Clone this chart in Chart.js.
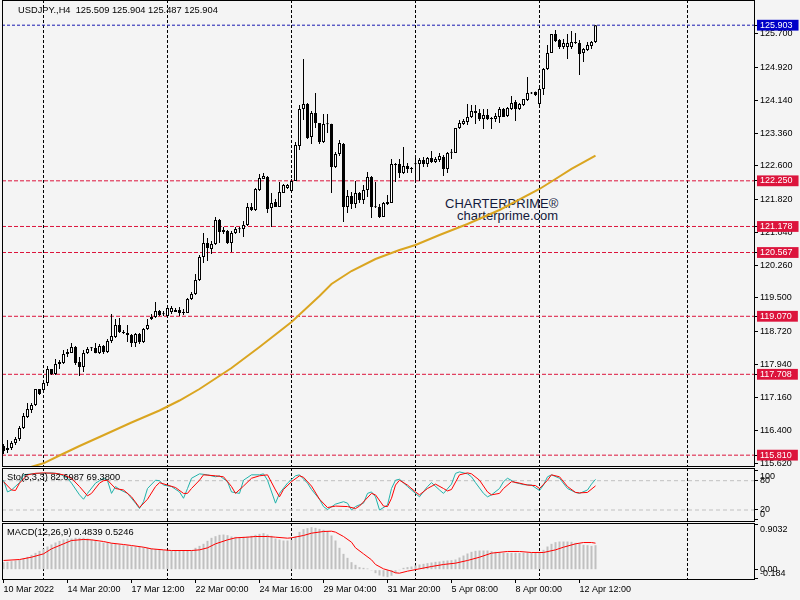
<!DOCTYPE html>
<html><head><meta charset="utf-8">
<script src="https://cdn.jsdelivr.net/npm/chart.js@4.4.1/dist/chart.umd.min.js"></script>
<style>
html,body{margin:0;padding:0;background:#f4f4f4;}
#wrap{position:relative;width:800px;height:600px;overflow:hidden;background:#f4f4f4;font-family:"Liberation Sans",Arial,sans-serif;}
canvas{position:absolute;left:0;top:0;}
.t{position:absolute;font-size:9.3px;line-height:11px;color:#000;white-space:pre;}
.wm{position:absolute;font-size:13px;line-height:15px;color:#141a3c;white-space:pre;}
</style></head><body>
<div id="wrap">
<div class="wm" style="left:445px;top:196px">CHARTERPRIME®</div>
<div class="wm" style="left:457px;top:208px">charterprime.com</div>
<canvas id="c1" width="800" height="600"></canvas>
<canvas id="c2" width="800" height="600"></canvas>
<canvas id="c3" width="800" height="600"></canvas>
<div class="t" style="left:18px;top:5px">USDJPY.,H4  125.509 125.904 125.487 125.904</div>
<div class="t" style="left:7px;top:472px">Sto(5,3,3) 82.6987 69.3800</div>
<div class="t" style="left:7px;top:527px">MACD(12,26,9) 0.4839 0.5246</div>
</div>
<script>
// ---------- DATA ----------
const opens = [116.025,115.931,115.978,116.096,116.190,116.448,116.706,116.870,116.988,117.363,
117.340,117.504,117.833,117.715,117.950,117.974,118.185,118.209,118.349,117.997,
117.880,118.209,118.322,118.326,118.209,118.373,118.232,118.490,118.584,118.865,
118.701,118.678,118.631,118.443,118.654,118.467,118.772,119.006,119.053,119.194,
119.115,119.077,119.171,119.218,119.218,119.147,119.147,119.476,119.593,119.922,
120.462,120.790,120.650,120.767,121.330,121.096,121.072,120.790,121.025,121.115,
121.119,121.213,121.635,121.565,122.034,122.293,122.340,121.612,121.753,121.635,
121.964,122.081,122.011,122.246,123.067,123.936,124.053,123.279,123.842,123.607,
123.161,123.580,123.584,122.575,122.880,123.114,121.635,121.894,121.706,121.964,
121.800,122.034,122.340,121.630,121.635,121.401,121.706,121.729,122.622,122.645,
122.434,122.598,122.525,122.640,122.645,122.739,122.645,122.786,122.692,122.739,
122.809,122.528,122.910,122.903,123.490,123.584,123.631,123.748,123.889,123.842,
123.701,123.795,123.701,123.701,123.748,123.936,123.772,123.936,124.100,123.936,
124.030,124.147,124.300,124.335,124.053,124.405,124.875,125.250,125.697,125.556,
125.391,125.391,125.391,125.509,125.485,125.250,125.321,125.415,125.509];
const highs = [116.072,116.166,116.143,116.237,116.495,116.800,117.035,117.035,117.363,117.363,
117.575,117.903,117.833,118.068,118.044,118.279,118.302,118.443,118.373,118.115,
118.279,118.349,118.349,118.443,118.420,118.396,118.537,119.124,119.006,119.030,
118.748,118.865,118.654,118.678,118.678,118.795,119.006,119.124,119.405,119.218,
119.194,119.312,119.312,119.265,119.288,119.241,119.499,119.640,120.063,120.509,
121.025,120.908,120.837,121.401,121.354,121.166,121.096,121.072,121.166,121.166,
121.307,121.729,121.729,122.081,122.410,122.434,122.363,121.964,121.823,122.222,
122.175,122.175,122.293,123.161,124.030,125.110,124.077,123.889,124.312,123.607,
123.819,123.819,123.590,122.927,123.208,123.138,122.034,121.988,122.246,121.988,
122.152,122.457,122.363,122.222,121.706,121.753,121.917,122.762,122.668,122.762,
123.044,122.668,122.575,122.786,122.786,122.809,122.809,122.950,122.809,122.903,
122.856,122.927,122.997,123.490,123.678,123.701,124.053,124.030,124.030,123.936,
123.936,123.936,123.748,123.842,123.983,123.959,123.983,124.241,124.147,124.077,
124.171,124.687,124.335,124.345,124.429,124.898,125.438,125.697,125.790,125.580,
125.580,125.697,125.767,125.720,125.556,125.368,125.509,125.532,125.904];
const lows = [115.838,115.861,115.931,116.049,116.143,116.424,116.682,116.800,116.964,117.222,
117.340,117.434,117.692,117.692,117.833,117.950,118.115,118.209,117.927,117.668,
117.762,118.185,118.255,118.205,118.185,118.185,118.209,118.443,118.560,118.678,
118.654,118.467,118.349,118.349,118.420,118.443,118.748,118.983,119.030,119.077,
119.077,119.053,119.124,119.171,119.077,119.100,119.147,119.452,119.570,119.898,
120.321,120.368,120.532,120.743,120.790,121.002,120.767,120.579,121.002,121.025,
120.931,121.190,121.542,121.542,122.011,122.293,121.495,121.166,121.635,121.635,
121.964,122.058,121.988,122.246,122.973,123.678,123.232,123.114,123.490,123.114,
123.138,123.373,121.964,122.551,122.833,121.283,121.495,121.588,121.612,121.729,
121.706,121.870,121.377,121.612,121.377,121.401,121.682,121.729,122.222,122.316,
122.410,122.434,122.434,122.222,122.246,122.575,122.575,122.668,122.668,122.692,
122.363,122.434,122.762,122.903,123.467,123.560,123.560,123.725,123.584,123.654,
123.467,123.678,123.467,123.631,123.607,123.748,123.748,123.912,123.654,123.912,
124.006,124.124,124.290,124.241,124.006,124.265,124.851,125.250,125.509,125.344,
125.344,125.110,125.344,125.462,124.734,125.039,125.297,125.344,125.487];
const closes = [115.908,115.978,116.096,116.190,116.448,116.729,116.894,116.988,117.363,117.246,
117.504,117.833,117.715,117.950,117.997,118.185,118.232,118.349,117.974,117.880,
118.209,118.302,118.330,118.209,118.373,118.232,118.490,118.607,118.865,118.701,
118.678,118.631,118.443,118.654,118.467,118.772,118.865,119.053,119.194,119.100,
119.130,119.265,119.265,119.171,119.147,119.171,119.476,119.593,119.922,120.462,
120.790,120.673,120.767,121.330,121.049,121.049,120.790,121.025,121.119,121.125,
121.213,121.635,121.565,122.058,122.316,122.363,121.588,121.729,121.635,121.988,
122.152,122.152,122.246,123.091,123.936,124.053,123.255,123.842,123.607,123.161,
123.584,123.588,122.575,122.880,123.138,121.635,121.894,121.706,121.964,121.800,
122.034,122.340,121.635,121.640,121.401,121.729,121.753,122.645,122.630,122.434,
122.598,122.528,122.532,122.650,122.739,122.645,122.786,122.692,122.762,122.833,
122.528,122.903,122.927,123.490,123.607,123.654,123.748,123.889,123.842,123.701,
123.795,123.701,123.725,123.772,123.936,123.748,123.959,124.077,123.936,124.053,
124.171,124.312,124.312,124.265,124.405,124.875,125.250,125.697,125.532,125.391,
125.485,125.485,125.509,125.485,125.227,125.344,125.438,125.509,125.904];

// moving average: [bar index, price]
const maPoints = [[6,115.509],[10,115.619],[14,115.802],[19,116.025],[24,116.237],[32,116.577],
[39,116.859],[44,117.093],[49,117.363],[57,117.856],[64,118.349],[72,118.936],[79,119.546],
[82,119.828],[87,120.133],[93,120.415],[99,120.626],[103,120.744],[109,120.978],[116,121.236],
[124,121.565],[134,122.058],[138,122.293],[142,122.528],[148,122.844]];

const priceTicks = [125.700,124.920,124.140,123.360,122.600,121.820,121.040,120.260,119.500,118.720,117.940,117.160,116.400,115.620];
const redLevels = [122.250,121.178,120.567,119.070,117.708,115.810];
const bidLevel = 125.903;

// Stochastic: [bar index, value]
const stochK = [[0,81],[1,57],[2,61],[4,76],[5,92],[8,95],[10,95],[12,96],[14,94],[16,85],[17,75],[19,51],[20,42],
[21,54],[23,75],[25,85],[26,80],[27,54],[28,68],[29,62],[31,54],[33,34],[34,23],[35,37],[36,64],[38,81],[39,80],
[40,71],[42,68],[44,57],[45,44],[46,64],[47,85],[49,94],[51,92],[53,88],[54,90],[56,78],[57,57],[59,54],[60,81],
[62,92],[64,92],[65,94],[66,81],[68,34],[69,54],[71,75],[73,90],[74,92],[76,75],[77,62],[79,42],[80,27],[81,21],
[83,32],[85,37],[86,34],[87,20],[88,27],[90,34],[91,54],[92,57],[93,47],[94,20],[96,30],[97,64],[98,81],[99,83],
[101,68],[103,54],[104,47],[106,68],[107,76],[109,61],[110,54],[112,73],[113,95],[114,98],[116,94],[117,88],
[118,76],[120,54],[121,47],[122,51],[124,64],[125,78],[126,85],[128,76],[130,72],[132,71],[134,60],[135,71],
[136,88],[137,92],[139,85],[141,64],[143,56],[144,54],[146,61],[147,73],[148,82.6987]];
const stochD = [[0,78],[2,61],[3,60],[4,75],[6,92],[8,95],[10,96],[13,95],[15,92],[17,85],[19,68],[21,49],[22,54],
[24,75],[25,80],[26,81],[28,64],[30,61],[32,47],[34,25],[36,42],[38,68],[39,76],[41,71],[43,66],[45,54],[46,54],
[47,64],[49,81],[50,92],[53,90],[55,88],[57,68],[58,54],[60,69],[62,85],[64,90],[66,92],[68,61],[69,47],[70,62],
[72,78],[74,90],[75,87],[77,69],[79,42],[81,25],[83,28],[86,27],[88,23],[89,28],[92,54],[93,51],[95,28],[96,27],
[97,44],[98,71],[99,81],[101,71],[103,57],[104,51],[106,64],[108,73],[110,64],[111,59],[112,62],[114,92],[116,96],
[117,94],[119,81],[121,57],[122,51],[124,54],[125,64],[127,78],[129,75],[131,71],[133,70],[134,64],[136,81],
[137,92],[139,88],[141,68],[143,56],[144,55],[146,56],[148,69.38]];
const stochLevels = [80,20];
const stochTicks = [100,80,20,0];

// MACD histogram, one value per bar
const macdHist = [0.149,0.155,0.168,0.182,0.195,0.221,0.254,0.294,0.333,0.373,
0.412,0.458,0.498,0.537,0.570,0.597,0.610,0.616,0.630,0.630,
0.630,0.616,0.597,0.570,0.544,0.537,0.531,0.524,0.511,0.498,
0.485,0.478,0.465,0.458,0.452,0.445,0.432,0.419,0.406,0.392,
0.386,0.379,0.379,0.379,0.379,0.379,0.379,0.379,0.432,0.471,
0.511,0.570,0.630,0.662,0.689,0.695,0.682,0.656,0.649,0.643,
0.649,0.656,0.669,0.689,0.709,0.722,0.695,0.669,0.616,0.597,
0.577,0.577,0.590,0.656,0.748,0.801,0.821,0.840,0.827,0.808,
0.788,0.761,0.676,0.577,0.432,0.313,0.234,0.149,0.096,0.050,
0.037,0.023,-0.016,-0.069,-0.115,-0.135,-0.148,-0.121,-0.069,-0.003,
0.037,0.050,0.063,0.083,0.103,0.116,0.129,0.142,0.155,0.162,
0.175,0.182,0.188,0.201,0.241,0.280,0.320,0.353,0.373,0.379,
0.379,0.379,0.366,0.353,0.340,0.333,0.333,0.333,0.333,0.333,
0.333,0.333,0.333,0.333,0.340,0.392,0.458,0.511,0.544,0.557,
0.557,0.557,0.551,0.531,0.511,0.491,0.485,0.471,0.4839];
const macdSignal = [[0,0.182],[4,0.201],[7,0.247],[10,0.313],[12,0.412],[15,0.511],[17,0.577],[20,0.597],[22,0.590],
[25,0.557],[27,0.524],[30,0.498],[32,0.478],[35,0.445],[37,0.412],[40,0.392],[42,0.379],[47,0.379],[49,0.392],
[51,0.432],[53,0.511],[56,0.590],[58,0.630],[61,0.643],[63,0.656],[66,0.656],[68,0.643],[71,0.623],[72,0.630],
[75,0.676],[77,0.722],[80,0.755],[82,0.761],[83,0.742],[85,0.656],[87,0.544],[88,0.432],[90,0.313],[92,0.195],
[93,0.103],[95,0.017],[97,-0.029],[98,-0.062],[99,-0.069],[101,-0.029],[104,0.017],[107,0.063],[110,0.103],
[113,0.129],[116,0.182],[119,0.247],[122,0.327],[126,0.360],[129,0.360],[132,0.340],[135,0.340],[138,0.392],
[140,0.445],[143,0.511],[145,0.537],[147,0.537],[148,0.5246]];
const macdTicks = [0.9032,0,-0.184];

const timeIdx = [0,16,32,48,64,80,96,112,128,144];
const timeLabels = ['10 Mar 2022','14 Mar 20:00','17 Mar 12:00','22 Mar 00:00','24 Mar 16:00','29 Mar 04:00','31 Mar 20:00','5 Apr 08:00','8 Apr 00:00','12 Apr 12:00'];
const gridIdx = [10,41,72,103,134,171];

// ---------- CHARTS ----------
Chart.defaults.font.family = '"Liberation Sans", Arial, sans-serif';
Chart.defaults.font.size = 9;
Chart.defaults.color = '#000';

const X_MIN = -0.375, X_MAX = 187.875;
const AXIS_W = 45;

const frame = {id:'frame', afterDatasetsDraw(chart){
  const {ctx, chartArea:a} = chart;
  ctx.save(); ctx.strokeStyle = '#000'; ctx.lineWidth = 1;
  ctx.strokeRect(a.left + 0.5, a.top + 0.5, a.right - a.left - 1, a.bottom - a.top - 1);
  ctx.restore();
}};

function gridAxis(){
  return {type:'linear', position:'bottom', min:X_MIN, max:X_MAX, offset:false,
    afterBuildTicks: s => { s.ticks = gridIdx.map(v => ({value:v})); },
    afterFit: s => { s.height = 0; s.paddingLeft = 0; s.paddingRight = 0; },
    ticks:{display:false},
    grid:{display:true, color:'#000', lineWidth:1, drawTicks:false, drawOnChartArea:true, offset:false},
    border:{display:false, dash:[3,2]}};
}
// edge labels are drawn inside the panel, as the terminal does (top one below its level, bottom one above)
function edgeLabel(text, v, top, bottom){
  if (v === top) return ['', text];
  if (v === bottom) return [text, ''];
  return text;
}
function rightAxis(min, max, tickVals, fmt){
  return {type:'linear', position:'right', min, max,
    afterBuildTicks: s => { s.ticks = tickVals.map(v => ({value:v})); },
    afterFit: s => { s.width = AXIS_W; s.paddingTop = 0; s.paddingBottom = 0; },
    ticks:{autoSkip:false, padding:2, color:'#000', callback: fmt},
    grid:{drawOnChartArea:false, drawTicks:true, tickLength:3, color:'#000'},
    border:{display:false}};
}
function base(padTop, padBottom){
  return {responsive:false, animation:false, events:[],
    layout:{padding:{top:padTop, bottom:padBottom, left:2, right:0}},
    plugins:{legend:{display:false}, tooltip:{enabled:false}}};
}
const lineDs = (pts, color, width, dash, order) => ({type:'line', data: pts.map(p => ({x:p[0], y:p[1]})),
  borderColor: color, borderWidth: width, borderDash: dash || [], pointRadius: 0, tension: 0, fill:false, order});

// Main price panel
const idx = opens.map((_, i) => i);
const allLevels = redLevels.concat([bidLevel]);
const isLevel = c => !!(c.tick && allLevels.includes(c.tick.value));
const mainDatasets = [
  {type:'bar', data: idx.map(i => ({x:i, y:[opens[i], closes[i]]})),
   backgroundColor: c => (closes[c.dataIndex] >= opens[c.dataIndex] ? '#ffffff' : '#000000'),
   borderColor:'#000', borderWidth:1, borderSkipped:false, barThickness:3, grouped:false, minBarLength:1, inflateAmount:0, order:0},
  {type:'bar', data: idx.map(i => ({x:i, y:[lows[i], highs[i]]})),
   backgroundColor:'#000', borderWidth:0, barThickness:1, grouped:false, inflateAmount:0, order:1},
  lineDs(maPoints, '#daa520', 2, null, 2),
  lineDs([[X_MIN, bidLevel],[X_MAX, bidLevel]], '#1818b0', 1, [3,2], 3)
].concat(redLevels.map(L => lineDs([[X_MIN, L],[X_MAX, L]], '#dc143c', 1, [4,2], 3)));

const o1 = base(0, 133);
o1.scales = {
  x: gridAxis(),
  y: rightAxis(115.532, 126.4946, priceTicks.concat(allLevels), v => Number(v).toFixed(3))
};
Object.assign(o1.scales.y.ticks, {
  color: c => (isLevel(c) ? '#ffffff' : '#000000'),
  showLabelBackdrop: c => isLevel(c),
  backdropColor: c => (c.tick && c.tick.value === bidLevel ? '#0000c8' : '#dc143c'),
  backdropPadding: {left:3, right:6, top:0, bottom:0}
});
new Chart(document.getElementById('c1'), {type:'bar', data:{datasets: mainDatasets}, options: o1, plugins:[frame]});

// Stochastic panel
const o2 = base(468, 78);
o2.scales = { x: gridAxis(), y: rightAxis(-4.6, 106, stochTicks, v => edgeLabel(String(v), v, 100, 0)) };
const stochDatasets = [
  lineDs(stochK, '#20b2aa', 1, null, 1),
  lineDs(stochD, '#ff0000', 1, null, 0)
].concat(stochLevels.map(L => lineDs([[X_MIN, L],[X_MAX, L]], '#c0c0c0', 1, [4,3], 2)));
new Chart(document.getElementById('c2'), {type:'line', data:{datasets: stochDatasets}, options: o2, plugins:[frame]});

// MACD panel
const o3 = base(523, 0);
o3.scales = {
  x: {type:'linear', position:'bottom', min:X_MIN, max:X_MAX, offset:false,
      afterBuildTicks: s => { s.ticks = timeIdx.map(v => ({value:v})); },
      afterFit: s => { s.height = 20; s.paddingLeft = 0; s.paddingRight = 0; },
      ticks:{autoSkip:false, maxRotation:0, minRotation:0, align:'start', padding:1, color:'#000',
             callback: (v, k) => timeLabels[k]},
      grid:{drawOnChartArea:false, drawTicks:true, tickLength:3, color:'#000', offset:false},
      border:{display:false}},
  xg: gridAxis(),
  y: rightAxis(-0.2038, 0.9230, macdTicks, v => edgeLabel(v === 0 ? '0.00' : String(v), v, 0.9032, -0.184))
};
const macdDatasets = [
  Object.assign(lineDs(macdSignal, '#ff0000', 1, null, 0), {xAxisID:'x'}),
  {type:'bar', data: idx.map(i => ({x:i, y:macdHist[i]})), backgroundColor:'#c0c0c0', borderWidth:0,
   barThickness:2, grouped:false, inflateAmount:0, order:1, xAxisID:'x'}
];
new Chart(document.getElementById('c3'), {type:'bar', data:{datasets: macdDatasets}, options: o3, plugins:[frame]});
</script>
</body></html>
